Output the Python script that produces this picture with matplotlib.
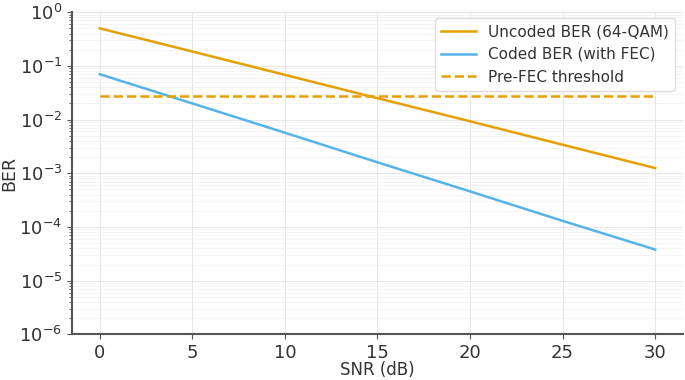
import matplotlib.pyplot as plt

snr = [0, 5, 10, 15, 20, 25, 30]
ber_uncoded = [0.5, 0.185, 0.068, 0.025, 0.0093, 0.0034, 0.00125]
ber_coded = [0.07, 0.020, 0.0057, 0.0016, 4.6e-4, 1.3e-4, 3.8e-5]
threshold = 0.027

txt = "#333333"
fig = plt.figure(figsize=(6.85, 3.8), dpi=100)
ax = fig.add_axes([0.105, 0.12, 0.892, 0.848])

ax.semilogy(snr, ber_uncoded, color="#E69F00", lw=1.8, label="Uncoded BER (64-QAM)")
ax.semilogy(snr, ber_coded, color="#56B4E9", lw=1.8, label="Coded BER (with FEC)")
ax.hlines(threshold, snr[0], snr[-1], colors="#E69F00", linestyles="--", lw=1.8,
          label="Pre-FEC threshold")

ax.set_xlim(-1.5, 31.5)
ax.set_ylim(1e-6, 1)
ax.set_xticks([0, 5, 10, 15, 20, 25, 30])
ax.grid(True, which="major", color="#e6e6e6", lw=0.7)
ax.grid(True, which="minor", color="#f0f0f0", lw=0.5)
ax.set_axisbelow(True)

for s in ["top", "right"]:
    ax.spines[s].set_visible(False)
for s in ["left", "bottom"]:
    ax.spines[s].set_color("#555555")
    ax.spines[s].set_linewidth(1.5)
ax.tick_params(colors=txt, labelsize=13)
ax.tick_params(which="both", color="#555555")

ax.set_xlabel("SNR (dB)", color=txt, fontsize=12, labelpad=-1)
ax.set_ylabel("BER", color=txt, fontsize=12.5, labelpad=1)

leg = ax.legend(loc="upper right", fontsize=11, labelcolor=txt, framealpha=1,
                handlelength=2.3, bbox_to_anchor=(1.0, 1.005))
leg.get_frame().set_edgecolor("#dddddd")

plt.savefig("out.png")
